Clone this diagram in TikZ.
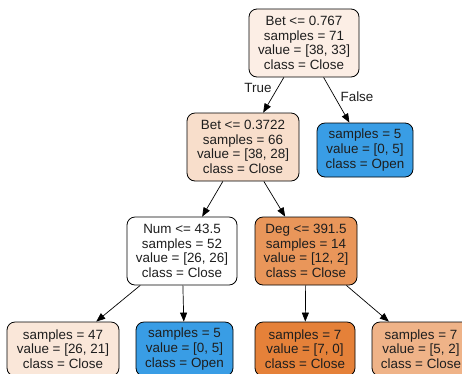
\documentclass[tikz,border=0pt]{standalone}
\usepackage{fontspec}
\setmainfont{Liberation Sans}
\usetikzlibrary{arrows.meta}
\definecolor{cRoot}{RGB}{252,238,229}
\definecolor{cTwo}{RGB}{248,222,203}
\definecolor{cDeg}{RGB}{233,150,90}
\definecolor{cLeafA}{RGB}{250,231,217}
\definecolor{cBlue}{RGB}{57,157,229}
\definecolor{cOrange}{RGB}{229,129,57}
\definecolor{cLeafD}{RGB}{239,179,136}
\definecolor{txt}{RGB}{30,30,30}
\tikzset{
  tnode/.style={draw=black, line width=0.8pt, rounded corners=8pt, align=center,
    inner sep=0pt, font=\fontsize{13.4}{14.7}\selectfont, text=txt},
  inner4/.style={tnode, minimum height=68pt},
  leaf3/.style={tnode, minimum height=54pt},
  edge/.style={draw=black, line width=0.7pt, -{Triangle[length=9pt,width=7pt]}},
  elabel/.style={font=\fontsize{13.4}{14}\selectfont, text=txt, inner sep=0pt}
}
\begin{document}
\begin{tikzpicture}[x=1pt,y=-1pt]
\useasboundingbox (0,0) rectangle (462,373);
\clip (0,0) rectangle (462,373);
\node[inner4, fill=cRoot, minimum width=110pt] (root) at (304,43) {Bet <= 0.767\\samples = 71\\value = [38, 33]\\class = Close};
\node[inner4, fill=cTwo, minimum width=112pt] (two) at (243,147) {Bet <= 0.3722\\samples = 66\\value = [38, 28]\\class = Close};
\node[leaf3, fill=cBlue, minimum width=96pt] (openA) at (365,150) {samples = 5\\value = [0, 5]\\class = Open};
\node[inner4, fill=white, minimum width=110pt] (num) at (182,251) {Num <= 43.5\\samples = 52\\value = [26, 26]\\class = Close};
\node[inner4, fill=cDeg, minimum width=102pt] (deg) at (306,251) {Deg <= 391.5\\samples = 14\\value = [12, 2]\\class = Close};
\node[leaf3, fill=cLeafA, minimum width=112pt] (lA) at (63,349) {samples = 47\\value = [26, 21]\\class = Close};
\node[leaf3, fill=cBlue, minimum width=97pt] (lB) at (184.5,349) {samples = 5\\value = [0, 5]\\class = Open};
\node[leaf3, fill=cOrange, minimum width=100pt] (lC) at (305,349) {samples = 7\\value = [7, 0]\\class = Close};
\node[leaf3, fill=cLeafD, minimum width=98pt] (lD) at (421,349) {samples = 7\\value = [5, 2]\\class = Close};
\path[edge] (root) -- (two);
\path[edge] (root) -- (openA);
\path[edge] (two) -- (num);
\path[edge] (two) -- (deg);
\path[edge] (num) -- (lA);
\path[edge] (num) -- (lB);
\path[edge] (deg) -- (lC);
\path[edge] (deg) -- (lD);
\node[elabel] (tl) at (258,88) {True};
\node[elabel] (fl) at (357,97) {False};
\end{tikzpicture}
\end{document}
